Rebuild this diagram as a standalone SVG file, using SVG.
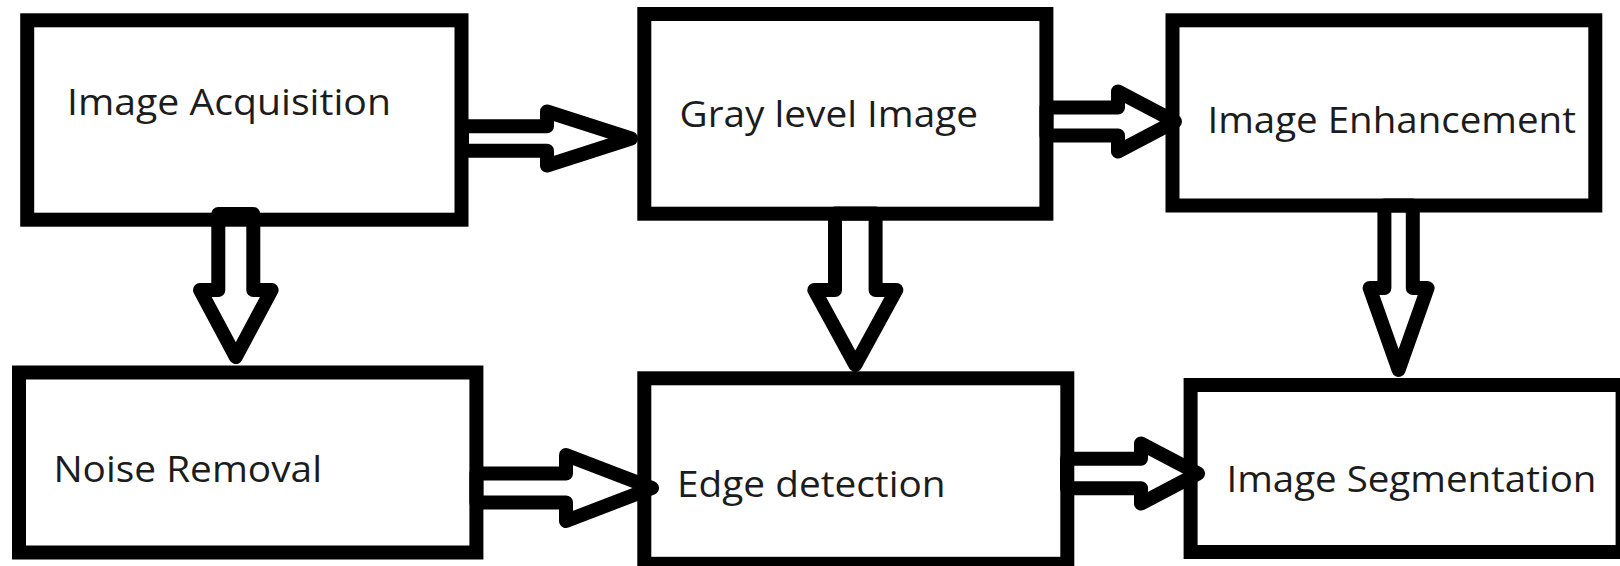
<svg xmlns="http://www.w3.org/2000/svg" width="1620" height="566" viewBox="0 0 1620 566">
  <style>
    .box { fill: #ffffff; stroke: #000000; stroke-width: 14; }
    .arrow { fill: none; stroke: #000000; stroke-width: 14; stroke-linejoin: round; }
    .label { font-family: "Open Sans", "Liberation Sans", sans-serif; font-size: 36px; fill: #1c1c1c; }
  </style>
  <rect x="0" y="0" width="1620" height="566" fill="#ffffff"/>
  <g id="node-image-acquisition">
    <rect class="box" x="27.2" y="20.3" width="434.3" height="199.4"/>
    <text class="label" x="67" y="115" textLength="324" lengthAdjust="spacingAndGlyphs">Image Acquisition</text>
  </g>
  <g id="node-gray-level-image">
    <rect class="box" x="644.3" y="14" width="402.1" height="199.7"/>
    <text class="label" x="679.5" y="126.7" textLength="298.5" lengthAdjust="spacingAndGlyphs">Gray level Image</text>
  </g>
  <g id="node-image-enhancement">
    <rect class="box" x="1172.5" y="20.3" width="422.8" height="185.2"/>
    <text class="label" x="1207.4" y="132.7" textLength="368.5" lengthAdjust="spacingAndGlyphs">Image Enhancement</text>
  </g>
  <g id="node-noise-removal">
    <rect class="box" x="19" y="372.5" width="457.4" height="180"/>
    <text class="label" x="53.4" y="481.7" textLength="268.6" lengthAdjust="spacingAndGlyphs">Noise Removal</text>
  </g>
  <g id="node-edge-detection">
    <rect class="box" x="644.3" y="378.3" width="423" height="185.5"/>
    <text class="label" x="677" y="497.3" textLength="268.6" lengthAdjust="spacingAndGlyphs">Edge detection</text>
  </g>
  <g id="node-image-segmentation">
    <rect class="box" x="1190.6" y="385" width="432" height="167"/>
    <text class="label" x="1226.4" y="491.7" textLength="370" lengthAdjust="spacingAndGlyphs">Image Segmentation</text>
  </g>
  <g id="connectors">
    <polygon class="arrow" points="462,126.2 547,126.2 547,111.5 631,138.5 547,165.5 547,150.8 462,150.8"/>
    <polygon class="arrow" points="1046.5,107.5 1118,107.5 1118,91.5 1175,121.5 1118,151.5 1118,135.5 1046.5,135.5"/>
    <polygon class="arrow" points="476.4,473.5 566,473.5 566,455 652,488 566,521 566,502.5 476.4,502.5"/>
    <polygon class="arrow" points="1067,458.75 1141,458.75 1141,443.5 1198,473.5 1141,503.5 1141,488.25 1067,488.25"/>
    <polygon class="arrow" points="218.3,214 218.3,290 200,290 235.8,357 271.6,290 253.3,290 253.3,214"/>
    <polygon class="arrow" points="835,213.5 835,290 814.3,290 855.3,365 896.3,290 875.6,290 875.6,213.5"/>
    <polygon class="arrow" points="1384.4,205.5 1384.4,288 1369.6,288 1398.6,370 1427.6,288 1412.8,288 1412.8,205.5"/>
  </g>
</svg>
